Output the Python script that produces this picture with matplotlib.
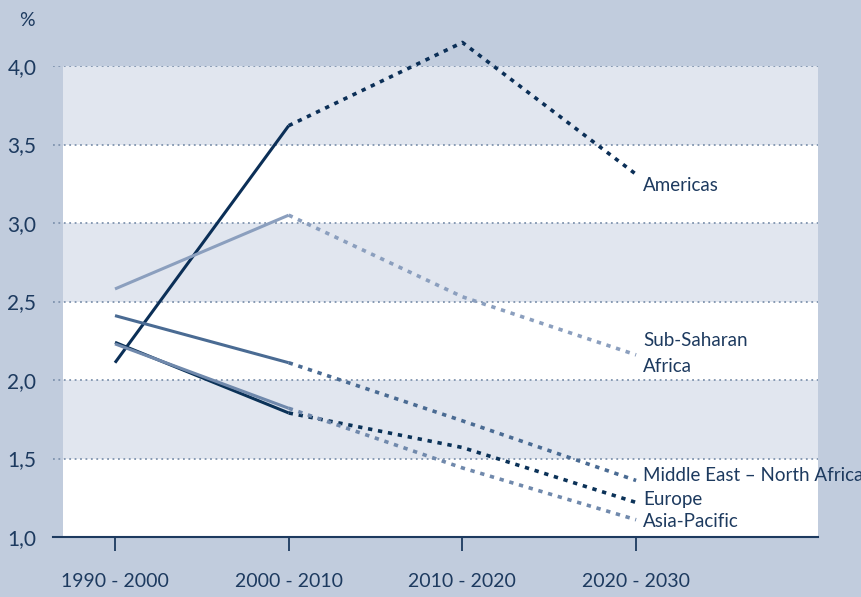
import matplotlib.pyplot as plt

# data
periods = ['1990 - 2000', '2000 - 2010', '2010 - 2020', '2020 - 2030']
americas = [2.11, 3.62, 4.15, 3.31]
sub_saharan = [2.58, 3.05, 2.53, 2.16]
mena = [2.41, 2.11, 1.74, 1.36]
europe = [2.24, 1.79, 1.57, 1.22]
asia_pacific = [2.23, 1.82, 1.44, 1.11]

labels = ['Americas', 'Sub-Saharan\nAfrica', 'Middle East \u2013 North Africa', 'Europe', 'Asia-Pacific']
series = [americas, sub_saharan, mena, europe, asia_pacific]
colors = ['#0b2f57', '#8b9fbe', '#4a6b93', '#0b3258', '#7089ac']
yticks = [1.0, 1.5, 2.0, 2.5, 3.0, 3.5, 4.0]

bg = '#c1ccdd'
band = '#e1e6ef'
txt = '#1d3a5f'

plt.rcParams['font.family'] = ['Lato', 'DejaVu Sans']

fig = plt.figure(figsize=(8.62, 5.97), dpi=100, facecolor=bg)
W, H = 862, 597
ax = fig.add_axes([53 / W, (H - 537) / H, (818 - 53) / W, (537 - 66) / H])
ax.set_facecolor(bg)

x = list(range(len(periods)))
step = 173.7
x0 = 115
xl = (53 - x0) / step
xr = (818 - x0) / step
ax.set_xlim(xl, xr)
ax.set_ylim(1.0, 4.0)

# plot area background bands
xa = (63 - 53) / (818 - 53)
for i in range(len(yticks) - 1):
    c = band if i % 2 == 1 else 'white'
    ax.axhspan(yticks[i], yticks[i + 1], xmin=xa, xmax=1, color=c, lw=0, zorder=0)

for yv in yticks[1:]:
    ax.axhline(yv, color='#7f93ae', lw=1.3, ls=(0, (1, 2)), zorder=1)

for s, c in zip(series, colors):
    ax.plot(x[:2], s[:2], color=c, lw=2.2, solid_capstyle='butt', zorder=3, clip_on=False)
    ax.plot(x[1:], s[1:], color=c, lw=2.6, ls=(0, (1.2, 1.6)), zorder=3, clip_on=False)

# end labels
lab_y = [3.24, 2.17, 1.39, 1.24, 1.10]
for lab, yv in zip(labels, lab_y):
    ax.text(x[-1] + 0.04, yv, lab, color=txt, fontsize=13.5, va='center', ha='left',
            linespacing=1.6, clip_on=False)

for sp in ['top', 'right', 'left']:
    ax.spines[sp].set_visible(False)
ax.spines['bottom'].set_color('#1d3a5f')
ax.spines['bottom'].set_linewidth(1.5)

ax.set_xticks(x)
ax.set_xticklabels(periods)
ax.set_yticks(yticks)
ax.set_yticklabels([f'{v:.1f}'.replace('.', ',') for v in yticks])
ax.tick_params(axis='x', length=10, width=1.3, color=txt, labelcolor=txt, labelsize=14, pad=16)
ax.tick_params(axis='y', length=0, labelcolor=txt, labelsize=15, pad=12)

fig.text(27 / W, 1 - 20 / H, '%', color=txt, fontsize=14, ha='center', va='center')

fig.savefig('out.png', dpi=100, facecolor=bg)
